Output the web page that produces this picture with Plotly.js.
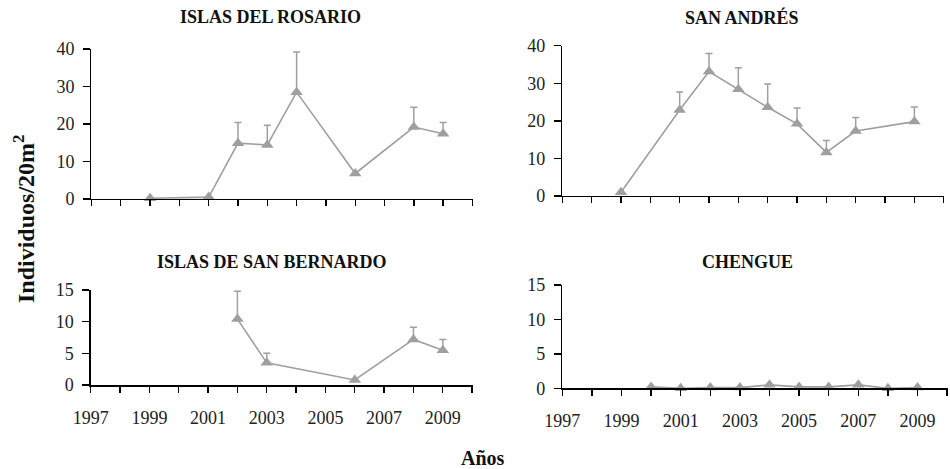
<!DOCTYPE html>
<html><head><meta charset="utf-8">
<script src="https://cdn.plot.ly/plotly-3.0.1.min.js"></script>
<style>html,body{margin:0;padding:0;background:#fff}#chart{width:950px;height:469px}</style>
</head><body><div id="chart"></div>
<script>
// Data
const panelTitles = ["ISLAS DEL ROSARIO", "SAN ANDRÉS", "ISLAS DE SAN BERNARDO", "CHENGUE"];

const rosarioYears = [1999, 2001, 2002, 2003, 2004, 2006, 2008, 2009];
const rosarioMean  = [0.2, 0.5, 14.9, 14.4, 28.5, 6.8, 19.2, 17.4];
const rosarioErr   = [0, 0, 5.5, 5.3, 10.7, 0, 5.3, 3.0];

const sanAndresYears = [1999, 2001, 2002, 2003, 2004, 2005, 2006, 2007, 2009];
const sanAndresMean  = [1.0, 22.9, 33.1, 28.4, 23.6, 19.2, 11.6, 17.3, 19.8];
const sanAndresErr   = [0, 4.8, 4.8, 5.7, 6.2, 4.2, 3.2, 3.6, 3.9];

const bernardoYears = [2002, 2003, 2006, 2008, 2009];
const bernardoMean  = [10.4, 3.5, 0.8, 7.2, 5.5];
const bernardoErr   = [4.4, 1.5, 0, 1.9, 1.7];

const chengueYears = [2000, 2001, 2002, 2003, 2004, 2005, 2006, 2007, 2008, 2009];
const chengueMean  = [0.2, 0.0, 0.1, 0.1, 0.5, 0.2, 0.2, 0.5, 0.0, 0.1];
const chengueErr   = [0, 0, 0, 0, 0, 0, 0, 0, 0, 0];

const xTickLabels = [1997, 1999, 2001, 2003, 2005, 2007, 2009];
const yTicksTop = [0, 10, 20, 30, 40];
const yTicksBottom = [0, 5, 10, 15];

const yTitle = "Individuos/20m<sup>2</sup>";
const xTitle = "Años";

const GRAY = "#9f9f9f";
const FONT = "'Liberation Serif', 'DejaVu Serif', serif";

function trace(x, y, err, xa, ya) {
  return {
    x: x, y: y, type: "scatter", mode: "lines+markers",
    xaxis: xa, yaxis: ya,
    line: {color: GRAY, width: 1.6},
    marker: {symbol: "triangle-up", size: 11, color: GRAY},
    error_y: {type: "data", symmetric: false, array: err, arrayminus: err.map(() => 0),
              color: GRAY, thickness: 1.5, width: 3.5},
    cliponaxis: false, showlegend: false, hoverinfo: "x+y"
  };
}

const data = [
  trace(rosarioYears, rosarioMean, rosarioErr, "x", "y"),
  trace(sanAndresYears, sanAndresMean, sanAndresErr, "x2", "y2"),
  trace(bernardoYears, bernardoMean, bernardoErr, "x3", "y3"),
  trace(chengueYears, chengueMean, chengueErr, "x4", "y4")
];

function xaxis(domain, anchor, labels) {
  return {
    domain: domain, anchor: anchor, range: [1997, 2010.02],
    tickmode: "array", tickvals: xTickLabels, ticktext: xTickLabels.map(String),
    showticklabels: labels, ticks: "outside", ticklen: 6, tickwidth: 1.4, tickcolor: "#000",
    minor: {dtick: 1, tick0: 1997, ticks: "outside", ticklen: 6, tickwidth: 1.4, tickcolor: "#000", showgrid: false},
    showline: true, linecolor: "#000", linewidth: 1.5,
    showgrid: false, zeroline: false, ticklabelstandoff: 10,
    tickfont: {family: FONT, size: 18, color: "#222"}
  };
}
function yaxis(domain, anchor, ticks) {
  return {
    domain: domain, anchor: anchor, range: [0, ticks[ticks.length - 1]],
    tickmode: "array", tickvals: ticks, ticktext: ticks.map(String),
    ticks: "outside", ticklen: 7, tickwidth: 1.4, tickcolor: "#000",
    showline: true, linecolor: "#000", linewidth: 1.5,
    showgrid: false, zeroline: false, ticklabelstandoff: 5,
    tickfont: {family: FONT, size: 18, color: "#222"}
  };
}

const ann = (text, x, y, size, extra) => Object.assign({
  text: text, x: x / 950, y: 1 - y / 469, xref: "paper", yref: "paper",
  showarrow: false, xanchor: "center", yanchor: "middle",
  font: {family: FONT, size: size, color: "#111"}
}, extra || {});

const layout = {
  width: 950, height: 469,
  margin: {l: 0, r: 0, t: 0, b: 0},
  paper_bgcolor: "#fff", plot_bgcolor: "#fff",
  font: {family: FONT},
  xaxis: xaxis([0.0963, 0.4979], "y", false),
  yaxis: yaxis([0.5757, 0.8955], "x", yTicksTop),
  xaxis2: xaxis([0.5919, 0.994], "y2", false),
  yaxis2: yaxis([0.5821, 0.9026], "x2", yTicksTop),
  xaxis3: xaxis([0.0955, 0.4976], "y3", true),
  yaxis3: yaxis([0.1791, 0.3817], "x3", yTicksBottom),
  xaxis4: xaxis([0.5919, 0.9976], "y4", true),
  yaxis4: yaxis([0.1721, 0.3923], "x4", yTicksBottom),
  annotations: [
    ann("<b>" + panelTitles[0] + "</b>", 270, 17, 18),
    ann("<b>" + panelTitles[1] + "</b>", 742, 17, 18),
    ann("<b>" + panelTitles[2] + "</b>", 272, 262, 18),
    ann("<b>" + panelTitles[3] + "</b>", 747, 262, 18),
    ann("<b>" + yTitle + "</b>", 24, 219, 24, {textangle: -90}),
    ann("<b>" + xTitle + "</b>", 483, 458, 20)
  ]
};

Plotly.newPlot("chart", data, layout, {staticPlot: true});
</script>
</body></html>
